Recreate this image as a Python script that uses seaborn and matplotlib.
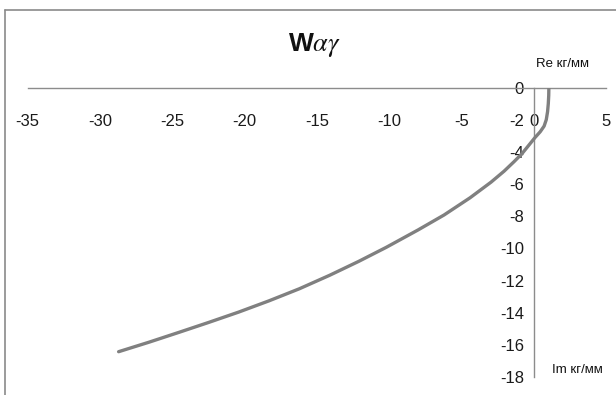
import matplotlib
matplotlib.use("Agg")
import matplotlib.pyplot as plt
from matplotlib.lines import Line2D
import pandas as pd
import seaborn as sns

# Hodograph of W_alpha_gamma: imaginary part (x) vs real part (y)
im_part = [1.05, 1.04, 1.01, 0.96, 0.87, 0.72, 0.45, 0.1, -0.35, -0.8,
           -1.35, -2.05, -2.95, -4.4, -6.2, -8.0, -10.2, -12.1, -14.1,
           -16.2, -18.3, -20.4, -22.5, -24.5, -26.6, -28.7]
re_part = [0.0, -0.5, -1.0, -1.5, -2.0, -2.4, -2.75, -3.1, -3.6, -4.1,
           -4.6, -5.2, -5.88, -6.85, -7.92, -8.85, -9.93, -10.8, -11.66,
           -12.5, -13.25, -13.95, -14.6, -15.2, -15.82, -16.41]

x_ticks = [-35, -30, -25, -20, -15, -10, -5, 0, 5]
y_ticks = [0, -2, -4, -6, -8, -10, -12, -14, -16, -18]

title_text = "W$\\alpha\\gamma$"
re_label = "Re кг/мм"
im_label = "Im кг/мм"

sns.set_theme(style="white")
plt.rcParams["font.family"] = ["Liberation Sans", "DejaVu Sans"]
plt.rcParams["mathtext.fontset"] = "stix"

W, H = 616, 395
fig = plt.figure(figsize=(W / 100, H / 100), dpi=100)
fig.patch.set_facecolor("white")

# axes placed so that the crossing axes sit at the chart's origin
x0, x1 = 27.5, 606.0
y_top, y_bot = 87.5, 377.3
ax = fig.add_axes([x0 / W, 1 - y_bot / H, (x1 - x0) / W, (y_bot - y_top) / H])
ax.set_facecolor("none")

df = pd.DataFrame({"Im": im_part, "Re": re_part})
sns.lineplot(data=df, x="Im", y="Re", sort=False, color="#808080",
             linewidth=2.4, ax=ax, zorder=3, solid_joinstyle="round",
             solid_capstyle="round")

ax.set_xlim(-35, 5)
ax.set_ylim(-18, 0)
ax.set_xticks(x_ticks)
ax.set_yticks(y_ticks)
ax.set_xticklabels([str(t) for t in x_ticks])
ax.set_yticklabels([str(t) for t in y_ticks])
ax.set_xlabel("")
ax.set_ylabel("")

axis_color = "#8c8c8c"
for side in ("top", "right"):
    ax.spines[side].set_visible(False)
ax.spines["left"].set_position(("data", 0))
ax.spines["bottom"].set_position(("data", 0))
for side in ("left", "bottom"):
    ax.spines[side].set_color(axis_color)
    ax.spines[side].set_linewidth(1.0)

ax.tick_params(axis="x", direction="out", length=5, width=1, color=axis_color,
               pad=14, labelsize=12, labelcolor="#1a1a1a")
ax.tick_params(axis="y", direction="out", length=3, width=1, color=axis_color,
               pad=4, labelsize=12, labelcolor="#1a1a1a")
ax.grid(False)

# chart title and axis captions
fig.text(314 / W, 1 - 45 / H, title_text, ha="center", va="center",
         fontsize=19, fontweight="bold", color="#111111")
fig.text(563 / W, 1 - 64 / H, re_label, ha="center", va="center",
         fontsize=9.5, color="#111111")
fig.text(577 / W, 1 - 370 / H, im_label, ha="center", va="center",
         fontsize=9.5, color="#111111")

# outer chart frame (top and left edges)
frame_color = "#8a8a8a"
fig.add_artist(Line2D([5 / W, 1.0], [1 - 10 / H, 1 - 10 / H],
                      transform=fig.transFigure, color=frame_color, linewidth=1.2))
fig.add_artist(Line2D([5 / W, 5 / W], [0.0, 1 - 10 / H],
                      transform=fig.transFigure, color=frame_color, linewidth=1.2))

fig.savefig("out.png", dpi=100, facecolor="white")
